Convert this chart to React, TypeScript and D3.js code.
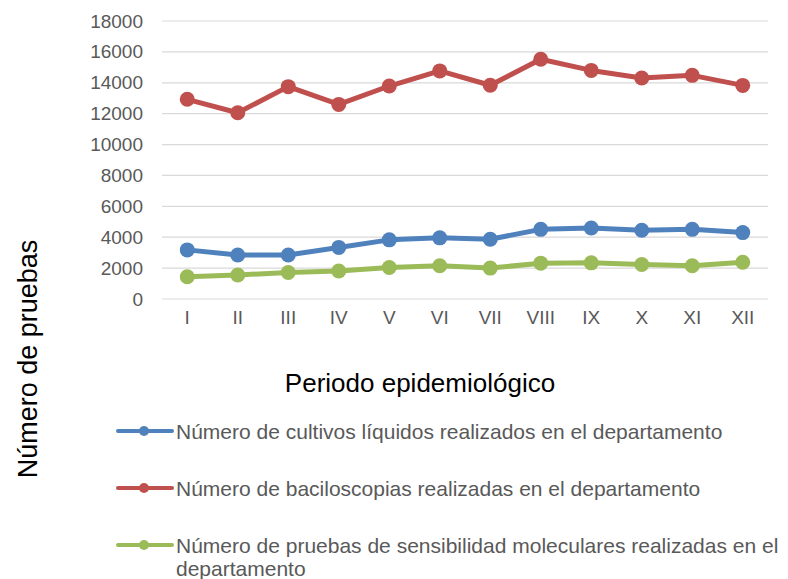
import { useEffect, useRef } from 'react';
import * as d3 from 'd3';

const periods = ['I', 'II', 'III', 'IV', 'V', 'VI', 'VII', 'VIII', 'IX', 'X', 'XI', 'XII'];
const cultivos = [3180, 2850, 2850, 3340, 3830, 3960, 3870, 4510, 4600, 4450, 4510, 4300];
const baciloscopias = [12930, 12060, 13750, 12600, 13790, 14770, 13840, 15520, 14800, 14310, 14480, 13830];
const moleculares = [1440, 1550, 1720, 1810, 2040, 2150, 2000, 2320, 2340, 2230, 2150, 2380];
const yTicks = [0, 2000, 4000, 6000, 8000, 10000, 12000, 14000, 16000, 18000];

const series = [
  { name: 'Número de cultivos líquidos realizados en el departamento', values: cultivos, color: '#4F81BD' },
  { name: 'Número de baciloscopias realizadas en el departamento', values: baciloscopias, color: '#C0504D' },
  { name: 'Número de pruebas de sensibilidad moleculares realizadas en el|departamento', values: moleculares, color: '#9BBB59' },
];

export default function App() {
  const svgRef = useRef<SVGSVGElement>(null);

  useEffect(() => {
    if (!svgRef.current) return;
    const svg = d3.select(svgRef.current);
    svg.selectAll('*').remove();

    const width = 788;
    const height = 579;
    const margin = { top: 21, left: 162 };
    const plotW = 768 - margin.left;
    const plotH = 299 - margin.top;
    const font = 'Liberation Sans, Arial, sans-serif';

    svg.append('rect').attr('width', width).attr('height', height).attr('fill', 'white');

    const x = d3.scaleBand().domain(periods).range([0, plotW]);
    const y = d3.scaleLinear().domain([0, 18000]).range([plotH, 0]);

    const g = svg.append('g').attr('transform', `translate(${margin.left},${margin.top})`);

    // gridlines
    g.selectAll('.grid')
      .data(yTicks)
      .enter().append('line')
      .attr('x1', 0)
      .attr('x2', plotW)
      .attr('y1', d => y(d))
      .attr('y2', d => y(d))
      .attr('stroke', '#D9D9D9')
      .attr('stroke-width', 1.2);

    // y labels
    const yAxis = g.append('g')
      .call(d3.axisLeft(y).tickValues(yTicks).tickSize(0).tickPadding(19).tickFormat(d3.format('d')));
    yAxis.select('.domain').remove();
    yAxis.selectAll('text')
      .attr('fill', '#595959')
      .style('font-family', font)
      .style('font-size', '19px');

    // x labels
    const xAxis = g.append('g')
      .attr('transform', `translate(0,${plotH})`)
      .call(d3.axisBottom(x).tickSize(0).tickPadding(12));
    xAxis.select('.domain').remove();
    xAxis.selectAll('text')
      .attr('fill', '#595959')
      .style('font-family', font)
      .style('font-size', '19px');

    const cx = (i: number) => (x(periods[i]) ?? 0) + x.bandwidth() / 2;
    const line = d3.line<number>().x((_, i) => cx(i)).y(d => y(d));

    series.forEach(s => {
      g.append('path')
        .datum(s.values)
        .attr('d', line)
        .attr('fill', 'none')
        .attr('stroke', s.color)
        .attr('stroke-width', 5)
        .attr('stroke-linejoin', 'round');
      g.selectAll(null)
        .data(s.values)
        .enter().append('circle')
        .attr('cx', (_, i) => cx(i))
        .attr('cy', d => y(d))
        .attr('r', 7.5)
        .attr('fill', s.color);
    });

    // axis titles
    svg.append('text')
      .attr('x', 420)
      .attr('y', 392)
      .attr('text-anchor', 'middle')
      .style('font-family', font)
      .style('font-size', '26px')
      .attr('fill', '#000')
      .text('Periodo epidemiológico');

    svg.append('text')
      .attr('transform', 'translate(37,359) rotate(-90)')
      .attr('text-anchor', 'middle')
      .style('font-family', font)
      .style('font-size', '27px')
      .attr('fill', '#000')
      .text('Número de pruebas');

    // legend
    const legendY = [431, 488, 545];
    series.forEach((s, i) => {
      const lg = svg.append('g').attr('transform', `translate(0,${legendY[i]})`);
      lg.append('line')
        .attr('x1', 118).attr('x2', 172)
        .attr('y1', 0).attr('y2', 0)
        .attr('stroke', s.color)
        .attr('stroke-width', 4)
        .attr('stroke-linecap', 'round');
      lg.append('circle').attr('cx', 144).attr('cy', 0).attr('r', 5).attr('fill', s.color);
      const parts = s.name.split('|');
      const t = lg.append('text')
        .attr('x', 176)
        .attr('y', 8)
        .attr('fill', '#595959')
        .style('font-family', font)
        .style('font-size', '21px');
      parts.forEach((p, j) => {
        t.append('tspan').attr('x', 176).attr('dy', j === 0 ? 0 : 23).text(p);
      });
    });
  }, []);

  return (
    <svg
      ref={svgRef}
      width={788}
      height={579}
      style={{ position: 'absolute', left: 0, top: 0 }}
    />
  );
}
